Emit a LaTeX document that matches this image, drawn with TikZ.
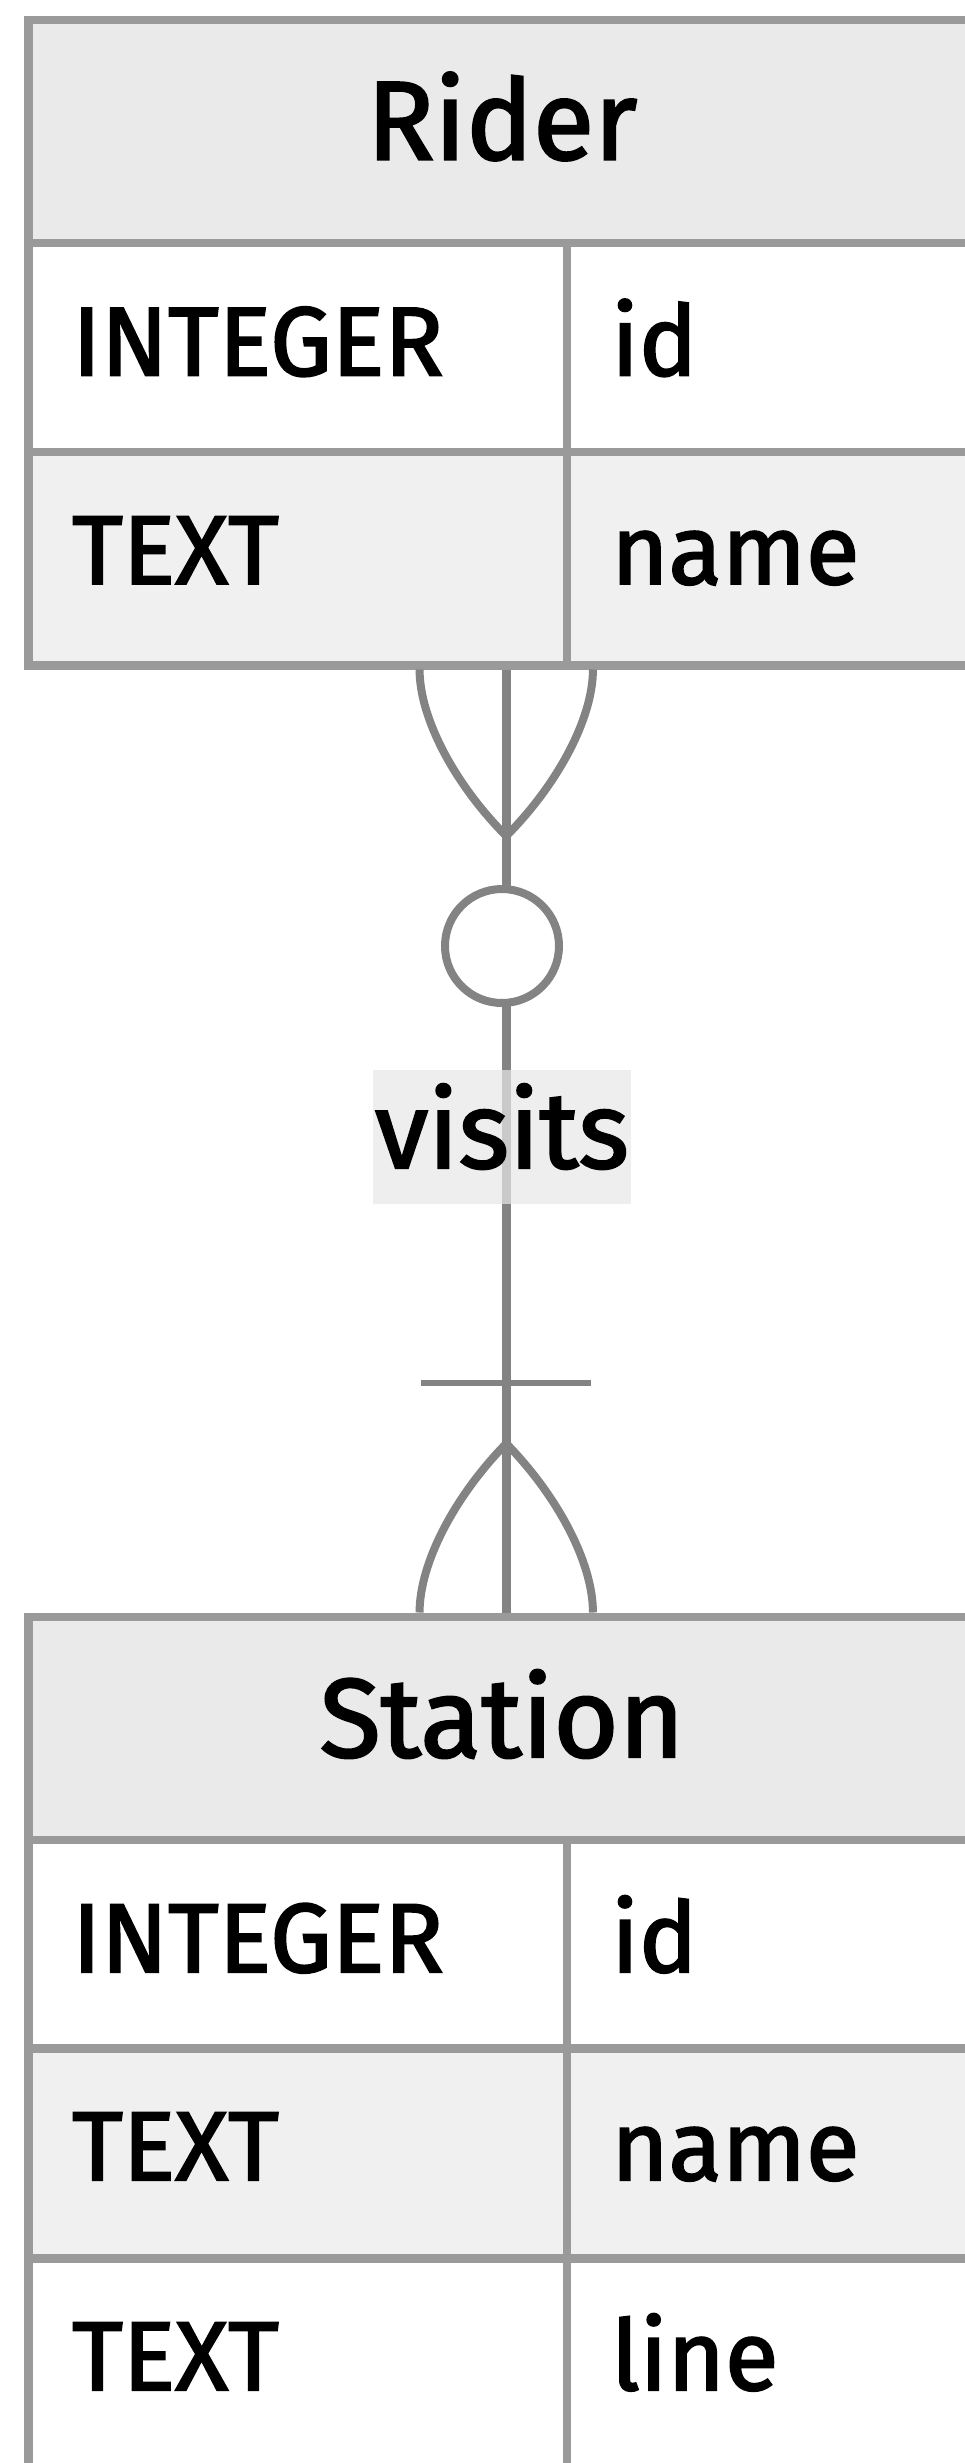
\documentclass[tikz,border=0pt]{standalone}
\usepackage{fontspec}
\setmainfont{Fira Sans}[FakeBold=2]
\usetikzlibrary{calc}
\definecolor{bordc}{HTML}{9A9A9A}
\definecolor{linec}{HTML}{838383}
\definecolor{hdrc}{HTML}{EAEAEA}
\definecolor{oddc}{HTML}{F0F0F0}
\definecolor{lblc}{HTML}{E8E8E8}
\begin{document}
\begin{tikzpicture}[x=1pt,y=-1pt,
  cellbox/.style={inner sep=0pt, outer sep=0pt, anchor=north west, minimum width=956pt},
  outline/.style={draw=bordc, line width=8.5pt, inner sep=0pt, anchor=north west, minimum width=956pt},
  sep/.style={draw=bordc, line width=8.5pt},
  vsep/.style={draw=bordc, line width=7.5pt},
  conn/.style={draw=linec, line width=8.5pt},
  foot/.style={draw=linec, line width=8pt},
  hdrtxt/.style={anchor=base, inner sep=0pt, font=\fontsize{112pt}{126pt}\selectfont},
  rowtxt/.style={anchor=base west, inner sep=0pt, font=\fontsize{98pt}{112pt}\selectfont},
]
\useasboundingbox (0,0) rectangle (964,2463);
\fill[white] (0,0) rectangle (964,2463);

% ---------- Rider ----------
\node[cellbox, fill=hdrc,  minimum height=227.5pt] (riderH)  at (24,15.5) {};
\node[cellbox, fill=white, minimum height=209pt]   (riderR1) at (24,243) {};
\node[cellbox, fill=oddc,  minimum height=209pt]   (riderR2) at (24,452) {};
\draw[sep] (riderH.south west) -- (riderH.south east);
\draw[sep] (riderR1.south west) -- (riderR1.south east);
\draw[vsep] (567,243) -- (567,661);
\node[outline, minimum height=645.5pt] (riderT) at (24,15.5) {};

\node[hdrtxt] (riderTitle) at (502,159.5) {Rider};
\node[rowtxt] (r1t) at (72,375.5) {INTEGER};
\node[rowtxt] (r1n) at (611,375.5) {id};
\node[rowtxt] (r2t) at (72,584) {TEXT};
\node[rowtxt] (r2n) at (611,584) {name};

% ---------- Station ----------
\node[cellbox, fill=hdrc,  minimum height=227.5pt] (stationH)  at (24,1612.5) {};
\node[cellbox, fill=white, minimum height=208.5pt] (stationR1) at (24,1840) {};
\node[cellbox, fill=oddc,  minimum height=210pt]   (stationR2) at (24,2048.5) {};
\node[cellbox, fill=white, minimum height=210pt]   (stationR3) at (24,2258.5) {};
\draw[sep] (stationH.south west) -- (stationH.south east);
\draw[sep] (stationR1.south west) -- (stationR1.south east);
\draw[sep] (stationR2.south west) -- (stationR2.south east);
\draw[vsep] (567,1840) -- (567,2475);
\node[outline, minimum height=857pt] (stationT) at (24,1612.5) {};

\node[hdrtxt] (stationTitle) at (502,1757) {Station};
\node[rowtxt] (s1t) at (72,1972) {INTEGER};
\node[rowtxt] (s1n) at (611,1972) {id};
\node[rowtxt] (s2t) at (72,2180) {TEXT};
\node[rowtxt] (s2n) at (611,2180) {name};
\node[rowtxt] (s3t) at (72,2390) {TEXT};
\node[rowtxt] (s3n) at (611,2390) {line};

% ---------- Relationship ----------
\draw[conn] (riderT.south) -- (stationT.north);
% many (Rider side)
\draw[foot] ($(riderT.south)+(-86.7,0)$) .. controls ($(riderT.south)+(-86.7,50)$) and ($(riderT.south)+(-50,116.5)$) .. ($(riderT.south)+(0,166.5)$)
            .. controls ($(riderT.south)+(50,116.5)$) and ($(riderT.south)+(86.7,50)$) .. ($(riderT.south)+(86.7,0)$);
% zero
\node[circle, draw=linec, line width=8pt, fill=white, minimum size=114pt, inner sep=0pt] (zeroMark) at (502,946) {};
% one (Station side)
\draw[draw=linec, line width=6.5pt] ($(stationT.north)+(-85,-229.5)$) -- ($(stationT.north)+(85,-229.5)$);
% many (Station side)
\draw[foot] ($(stationT.north)+(-86.7,0)$) .. controls ($(stationT.north)+(-86.7,-51)$) and ($(stationT.north)+(-50,-118)$) .. ($(stationT.north)+(0,-169)$)
            .. controls ($(stationT.north)+(50,-118)$) and ($(stationT.north)+(86.7,-51)$) .. ($(stationT.north)+(86.7,0)$);
% label
\node[anchor=base, inner sep=0pt, fill=lblc, fill opacity=0.7, text opacity=1,
      text height=98pt, text depth=36pt, minimum width=258pt,
      font=\fontsize{108pt}{124pt}\selectfont] (visits) at (502,1168) {visits};
\end{tikzpicture}
\end{document}
